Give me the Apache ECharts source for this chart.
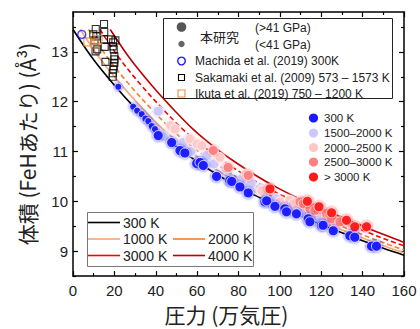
<!DOCTYPE html>
<html><head><meta charset="utf-8">
<script src="https://cdn.jsdelivr.net/npm/echarts/dist/echarts.min.js"></script>
<style>html,body{margin:0;padding:0;background:#fff}#c{width:420px;height:329px}</style>
</head><body><div id="c"></div>
<script>
// ---- data (pressure in 万気圧 ~ GPa, volume in Å^3 per FeH) ----
const xTicks = [0, 20, 40, 60, 80, 100, 120, 140, 160];
const yTicks = [9, 10, 11, 12, 13];
const yMinorTicks = [8.5, 9.5, 10.5, 11.5, 12.5, 13.5];

const curve300 = [[0,13.45],[10,12.84],[20,12.33],[30,11.87],[40,11.45],[50,11.10],[60,10.80],[70,10.53],[80,10.29],[90,10.08],[100,9.89],[110,9.71],[120,9.54],[130,9.37],[140,9.21],[150,9.06],[160,8.92]];
const curve1000 = [[3.5,13.45],[13.5,12.84],[23.5,12.33],[33.5,11.87],[43.5,11.45],[53.5,11.10],[63.5,10.80],[73.5,10.53],[83.5,10.29],[93.5,10.08],[103.5,9.89],[113.5,9.71],[123.5,9.54],[133.5,9.37],[143.5,9.21],[153.5,9.06],[160,8.97]];
const curve2000 = [[7.5,13.45],[17.5,12.84],[27.5,12.33],[37.5,11.87],[47.5,11.45],[57.5,11.10],[67.5,10.80],[77.5,10.53],[87.5,10.29],[97.5,10.08],[107.5,9.89],[117.5,9.71],[127.5,9.54],[137.5,9.37],[147.5,9.21],[157.5,9.06],[160,9.03]];
const curve3000 = [[13,13.45],[23,12.84],[33,12.33],[43,11.87],[53,11.45],[63,11.10],[73,10.80],[83,10.53],[93,10.29],[103,10.08],[113,9.89],[123,9.71],[133,9.54],[143,9.37],[153,9.21],[160,9.11]];
const curve4000 = [[18,13.45],[28,12.84],[38,12.33],[48,11.87],[58,11.45],[68,11.10],[78,10.80],[88,10.53],[98,10.29],[108,10.08],[118,9.89],[128,9.71],[138,9.54],[148,9.37],[158,9.21],[160,9.18]];

const blueSmall = [[21.9,12.30],[29.1,11.90],[31.0,11.82],[33.2,11.75],[35.0,11.66],[36.4,11.61],[38.0,11.51],[39.6,11.45]];
const blueBig = [[41.2,11.32],[47.7,11.18],[51.7,11.02],[54.1,10.97],[59.8,10.76],[61.4,10.78],[63.0,10.72],[69.4,10.50],[75.8,10.42],[76.7,10.40],[80.7,10.29],[84.7,10.17],[92.8,9.99],[93.6,10.01],[97.6,9.90],[102.4,9.85],[103.2,9.79],[108.0,9.75],[113.7,9.65],[114.5,9.59],[120.1,9.52],[120.9,9.52],[125.8,9.41],[133.8,9.31],[136.2,9.28],[144.3,9.10],[146.7,9.10]];
const lavender = [[41.2,11.81],[44.0,11.30],[53.3,11.18],[57.0,11.00],[64.6,10.92],[68.0,10.75],[74.3,10.65],[81.5,10.45],[86.0,10.35],[90.3,10.25],[98.4,10.05],[106.4,9.99],[111.0,9.80],[118.0,9.70]];
const pink = [[47.2,11.52],[49.3,11.45],[56.5,11.25],[60.0,11.15],[62.2,11.12],[71.0,10.88],[83.9,10.55],[91.2,10.22],[100.0,9.99],[104.8,10.02],[106.4,9.95],[117.7,9.82],[122.6,9.69],[127.4,9.55]];
const salmon = [[67.8,11.02],[75.0,10.68],[84.7,10.52],[109.7,9.99],[111.3,9.95],[114.5,9.85],[116.9,9.82],[122.6,9.75],[124.2,9.72],[125.0,9.65],[129.0,9.59]];
const redHot = [[95.2,10.25],[113.3,10.00],[118.9,9.89],[125.0,9.77],[132.2,9.62],[136.2,9.49],[141.9,9.49]];

const machida = [[4.25,13.35]];
const sakamaki = [[15.0,13.56],[11.0,13.46],[9.8,13.35],[11.3,13.31],[15.1,13.40],[10.4,13.23],[15.0,13.25],[10.9,13.01],[11.7,13.05],[15.3,13.10],[15.7,12.80],[18.4,13.25],[19.4,13.19],[20.5,13.23],[19.2,13.11],[19.7,13.05],[20.0,12.91],[20.0,12.85],[20.0,12.78],[19.7,12.71],[19.5,12.65],[19.2,12.57],[19.2,12.50]];
const ikuta = [[7.2,13.20],[10.6,13.16],[12.1,13.25]];

const tempLegend = ['300 K', '1500–2000 K', '2000–2500 K', '2500–3000 K', '> 3000 K'];
const curveLegend = ['300 K', '1000 K', '2000 K', '3000 K', '4000 K'];

// ---- styles ----
const C = {
  blue: '#1a1aff', lav: '#c9c9ff', pink: '#ffc9c9', salmon: '#ff8080', red: '#ff1a1a',
  k300: '#000000', k1000: '#f5a870', k2000: '#ee8030', k3000: '#ff0000', k4000: '#c00000',
  ikuta: '#ee8a3c'
};
const NUMF = 'Liberation Sans, Arial, sans-serif';
const JPF = 'Noto Sans CJK JP, sans-serif';

function dots(data, color, size, name) {
  return {
    type: 'scatter', name: name, data: data, symbol: 'circle', symbolSize: size,
    itemStyle: { color: color, opacity: 0.92, borderColor: 'rgba(255,255,255,0.75)', borderWidth: 1,
      shadowBlur: 3, shadowColor: color },
    z: 3
  };
}
function curve(data, color, type) {
  return { type: 'line', data: data, symbol: 'none', smooth: 0.35, silent: true,
    lineStyle: { color: color, width: 1.6, type: type }, z: 2 };
}

const chart = echarts.init(document.getElementById('c'), null, { renderer: 'svg' });

const axisLine = { show: true, lineStyle: { color: '#000', width: 1.5 } };
const tickStyle = { color: '#000', width: 1.2 };

const legendGraphics = [];
// top boxed legend
legendGraphics.push({ type: 'rect', shape: { x: 163.5, y: 18.5, width: 229, height: 80 }, style: { fill: '#fff', stroke: '#222', lineWidth: 1 }, z: 10 });
legendGraphics.push({ type: 'circle', shape: { cx: 181.5, cy: 27, r: 4.8 }, style: { fill: '#555' }, z: 11 });
legendGraphics.push({ type: 'circle', shape: { cx: 181.5, cy: 44, r: 3.2 }, style: { fill: '#666' }, z: 11 });
legendGraphics.push({ type: 'text', x: 200, y: 36, style: { text: '本研究', font: '13px ' + JPF, fill: '#222', verticalAlign: 'middle' }, z: 11 });
legendGraphics.push({ type: 'text', x: 255, y: 28, style: { text: '(>41 GPa)', font: '12px ' + NUMF, fill: '#222', verticalAlign: 'middle' }, z: 11 });
legendGraphics.push({ type: 'text', x: 255, y: 44.5, style: { text: '(<41 GPa)', font: '12px ' + NUMF, fill: '#222', verticalAlign: 'middle' }, z: 11 });
legendGraphics.push({ type: 'circle', shape: { cx: 181.5, cy: 61, r: 3.8 }, style: { fill: 'none', stroke: C.blue, lineWidth: 1.4 }, z: 11 });
legendGraphics.push({ type: 'text', x: 195, y: 61, style: { text: 'Machida et al. (2019) 300K', font: '12px ' + NUMF, fill: '#222', verticalAlign: 'middle' }, z: 11 });
legendGraphics.push({ type: 'rect', shape: { x: 178.5, y: 74.5, width: 6, height: 6 }, style: { fill: 'none', stroke: '#000', lineWidth: 1.1 }, z: 11 });
legendGraphics.push({ type: 'text', x: 195, y: 77.5, style: { text: 'Sakamaki et al. (2009) 573 – 1573 K', font: '12px ' + NUMF, fill: '#222', verticalAlign: 'middle' }, z: 11 });
legendGraphics.push({ type: 'rect', shape: { x: 178, y: 90, width: 7, height: 7 }, style: { fill: 'none', stroke: C.ikuta, lineWidth: 1.1 }, z: 11 });
legendGraphics.push({ type: 'text', x: 195, y: 93.5, style: { text: 'Ikuta et al. (2019) 750 – 1200 K', font: '12px ' + NUMF, fill: '#222', verticalAlign: 'middle' }, z: 11 });

// right temperature legend
const tempColors = [C.blue, C.lav, C.pink, C.salmon, C.red];
const tempRows = [118, 133, 147.5, 162, 177];
tempLegend.forEach(function (t, i) {
  legendGraphics.push({ type: 'circle', shape: { cx: 313.5, cy: tempRows[i], r: 4.6 }, style: { fill: tempColors[i] }, z: 11 });
  legendGraphics.push({ type: 'text', x: 324, y: tempRows[i], style: { text: t, font: '11.5px ' + NUMF, fill: '#222', verticalAlign: 'middle' }, z: 11 });
});

// bottom-left curve legend
legendGraphics.push({ type: 'rect', shape: { x: 87.5, y: 212.5, width: 166, height: 54 }, style: { fill: '#fff', stroke: '#777', lineWidth: 1 }, z: 10 });
const curveColors = [C.k300, C.k1000, C.k2000, C.k3000, C.k4000];
const curvePos = [[88, 222.5], [88, 239], [173, 239], [88, 255.5], [173, 255.5]];
curveLegend.forEach(function (t, i) {
  const p = curvePos[i];
  legendGraphics.push({ type: 'line', shape: { x1: p[0], y1: p[1], x2: p[0] + 32, y2: p[1] }, style: { stroke: curveColors[i], lineWidth: 1.6 }, z: 11 });
  legendGraphics.push({ type: 'text', x: p[0] + 35, y: p[1], style: { text: t, font: '14px ' + NUMF, fill: '#222', verticalAlign: 'middle' }, z: 11 });
});

chart.setOption({
  animation: false,
  backgroundColor: '#fff',
  grid: { left: 73, right: 16, top: 12, bottom: 51, containLabel: false },
  xAxis: [
    { type: 'value', min: 0, max: 160, interval: 20, position: 'bottom',
      name: '圧力 (万気圧)', nameLocation: 'middle', nameGap: 22,
      nameTextStyle: { fontSize: 21, fontFamily: JPF, color: '#222', padding: [0, 24, 0, 0] },
      axisLine: axisLine, axisTick: { inside: true, length: 5, lineStyle: tickStyle },
      minorTick: { show: true, splitNumber: 2, length: 3, lineStyle: tickStyle },
      splitLine: { show: false }, minorSplitLine: { show: false },
      axisLabel: { fontSize: 15, fontFamily: NUMF, color: '#222', margin: 7 } },
    { type: 'value', min: 0, max: 160, interval: 20, position: 'top',
      axisLine: axisLine, axisTick: { inside: true, length: 5, lineStyle: tickStyle },
      minorTick: { show: true, splitNumber: 2, length: 3, lineStyle: tickStyle },
      splitLine: { show: false }, axisLabel: { show: false } }
  ],
  yAxis: [
    { type: 'value', min: 8.5, max: 13.8, position: 'left',
      name: '体積 (FeHあたり) (Å³)', nameLocation: 'middle', nameGap: 36, nameRotate: 90,
      nameTextStyle: { fontSize: 21, fontFamily: JPF, color: '#222' },
      axisLine: axisLine,
      axisTick: { inside: true, length: 5, lineStyle: tickStyle, customValues: yTicks },
      axisLabel: { fontSize: 15, fontFamily: NUMF, color: '#222', margin: 5, customValues: yTicks },
      splitLine: { show: false } },
    { type: 'value', min: 8.5, max: 13.8, position: 'left',
      axisLine: { show: false },
      axisTick: { inside: true, length: 3, lineStyle: tickStyle, customValues: yMinorTicks },
      axisLabel: { show: false }, splitLine: { show: false } },
    { type: 'value', min: 8.5, max: 13.8, position: 'right',
      axisLine: axisLine,
      axisTick: { inside: true, length: 5, lineStyle: tickStyle, customValues: yTicks },
      axisLabel: { show: false }, splitLine: { show: false } },
    { type: 'value', min: 8.5, max: 13.8, position: 'right',
      axisLine: { show: false },
      axisTick: { inside: true, length: 3, lineStyle: tickStyle, customValues: yMinorTicks },
      axisLabel: { show: false }, splitLine: { show: false } }
  ],
  series: [
    curve(curve300, C.k300, 'solid'),
    curve(curve1000, C.k1000, 'solid'),
    curve(curve2000, C.k2000, [5, 3]),
    curve(curve3000, C.k3000, [5, 3]),
    curve(curve4000, C.k4000, 'solid'),
    dots(lavender, C.lav, 10, '1500–2000 K'),
    dots(pink, C.pink, 10, '2000–2500 K'),
    dots(salmon, C.salmon, 10, '2500–3000 K'),
    dots(redHot, C.red, 10, '> 3000 K'),
    dots(blueSmall, C.blue, 7, '300 K small'),
    dots(blueBig, C.blue, 10, '300 K'),
    { type: 'scatter', data: sakamaki, symbol: 'rect', symbolSize: 7,
      itemStyle: { color: 'rgba(255,255,255,0)', borderColor: '#000', borderWidth: 1.1 }, z: 4 },
    { type: 'scatter', data: ikuta, symbol: 'rect', symbolSize: 8,
      itemStyle: { color: 'rgba(255,255,255,0)', borderColor: C.ikuta, borderWidth: 1.2 }, z: 4 },
    { type: 'scatter', data: machida, symbol: 'circle', symbolSize: 8,
      itemStyle: { color: 'rgba(255,255,255,0)', borderColor: C.blue, borderWidth: 1.4 }, z: 4 }
  ],
  graphic: legendGraphics
});
</script></body></html>
